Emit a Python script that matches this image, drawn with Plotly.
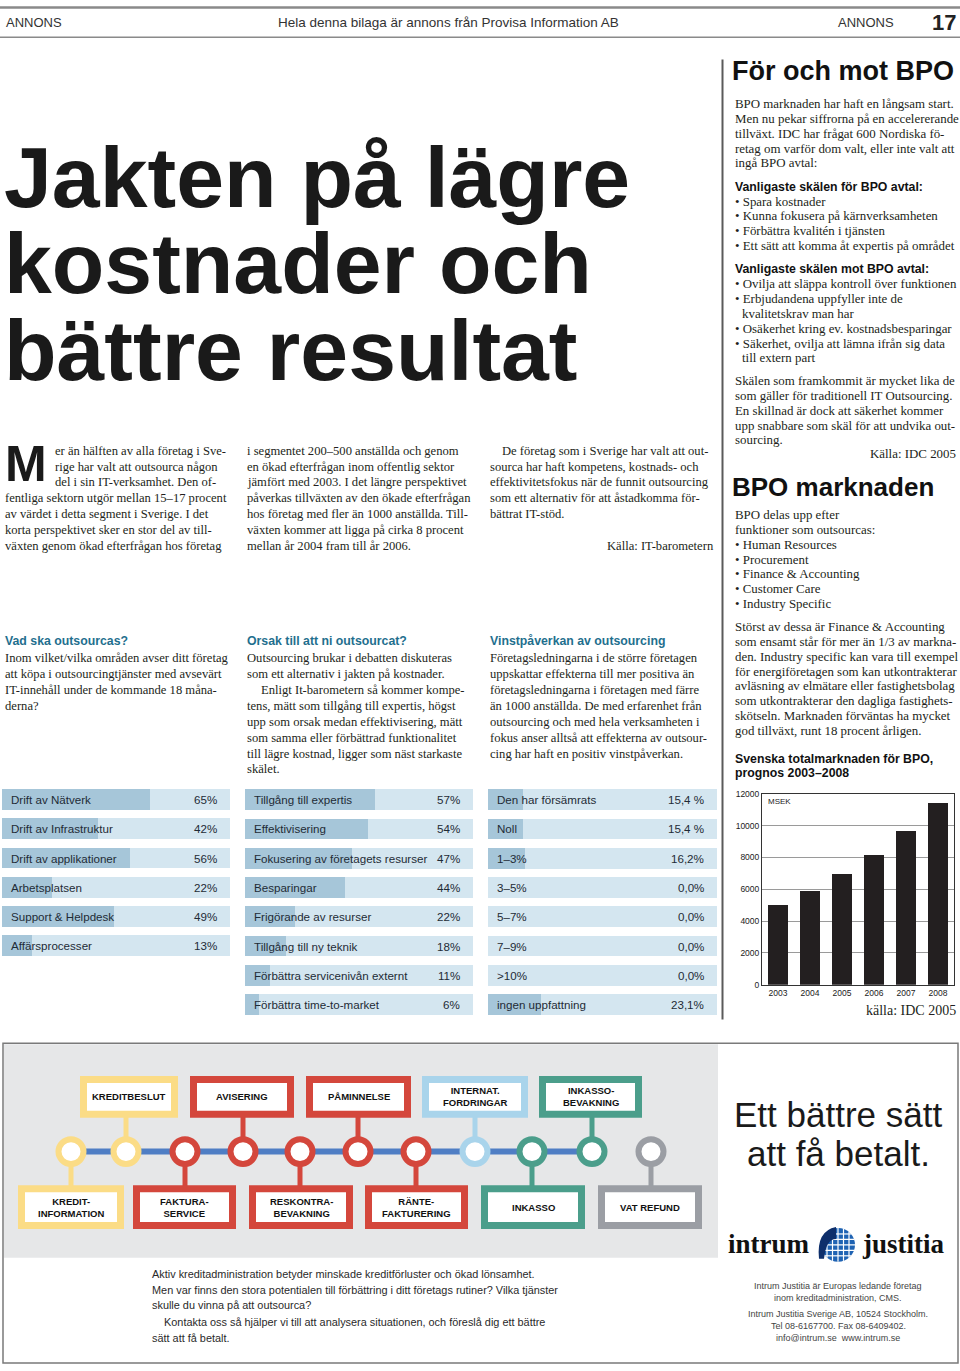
import math
import plotly.graph_objects as go

W, H = 960, 1371

# ---------------- data ----------------
outsource_cats = ["Drift av Nätverk", "Drift av Infrastruktur", "Drift av applikationer",
                  "Arbetsplatsen", "Support & Helpdesk", "Affärsprocesser"]
outsource_pct = [65, 42, 56, 22, 49, 13]
outsource_labels = ["65%", "42%", "56%", "22%", "49%", "13%"]

reason_cats = ["Tillgång till expertis", "Effektivisering", "Fokusering av företagets resurser",
               "Besparingar", "Frigörande av resurser", "Tillgång till ny teknik",
               "Förbättra servicenivån externt", "Förbättra time-to-market"]
reason_pct = [57, 54, 47, 44, 22, 18, 11, 6]
reason_labels = ["57%", "54%", "47%", "44%", "22%", "18%", "11%", "6%"]

profit_cats = ["Den har försämrats", "Noll", "1–3%", "3–5%", "5–7%", "7–9%", ">10%",
               "ingen uppfattning"]
profit_pct = [15.4, 15.4, 16.2, 0.0, 0.0, 0.0, 0.0, 23.1]
profit_labels = ["15,4 %", "15,4 %", "16,2%", "0,0%", "0,0%", "0,0%", "0,0%", "23,1%"]

bpo_years = ["2003", "2004", "2005", "2006", "2007", "2008"]
bpo_msek = [5000, 5900, 6950, 8150, 9700, 11450]
bpo_ticks = [0, 2000, 4000, 6000, 8000, 10000, 12000]

ad_top_labels = ["KREDITBESLUT", "AVISERING", "PÅMINNELSE", "INTERNAT.<br>FORDRINGAR",
                 "INKASSO-<br>BEVAKNING"]
ad_bottom_labels = ["KREDIT-<br>INFORMATION", "FAKTURA-<br>SERVICE", "RESKONTRA-<br>BEVAKNING",
                    "RÄNTE-<br>FAKTURERING", "INKASSO", "VAT REFUND"]

# ---------------- styles ----------------
SERIF = "Liberation Serif, DejaVu Serif, serif"
SANS = "Liberation Sans, Arial, Helvetica, sans-serif"
INK = "#231f20"
TEAL_HEAD = "#1f6f8e"
LIGHT = "#d4e6f0"
DARK = "#a6c6d9"

YEL, RED, LBL, TEA, GRY = "#fbdc86", "#d4473c", "#a9d4eb", "#4b9e8b", "#9b9ea4"
LINE_BLUE = "#4f7ec4"

fig = go.Figure()
ann = []
shapes = []
layout_axes = {}


def X(x):
    return x / W


def Y(y):
    return 1 - y / H


def T(x, y, text, size, family=SERIF, color=INK, anchor="left", weight="normal"):
    ann.append(dict(x=X(x), y=Y(y), xref="paper", yref="paper", text=text, showarrow=False,
                    xanchor=anchor, yanchor="middle",
                    font=dict(family=family, size=size, color=color, weight=weight)))


def hline(x0, x1, y, color, width):
    shapes.append(dict(type="line", xref="paper", yref="paper", x0=X(x0), x1=X(x1),
                       y0=Y(y), y1=Y(y), line=dict(color=color, width=width)))


def vline(x, y0, y1, color, width):
    shapes.append(dict(type="line", xref="paper", yref="paper", x0=X(x), x1=X(x),
                       y0=Y(y0), y1=Y(y1), line=dict(color=color, width=width)))


def rect(x0, y0, x1, y1, fill, line_color=None, lw=0):
    shapes.append(dict(type="rect", xref="paper", yref="paper", x0=X(x0), x1=X(x1),
                       y0=Y(y1), y1=Y(y0), fillcolor=fill,
                       line=dict(color=line_color or fill, width=lw)))


def circle(cx, cy, r, fill, line_color, lw):
    shapes.append(dict(type="circle", xref="paper", yref="paper", x0=X(cx - r), x1=X(cx + r),
                       y0=Y(cy + r), y1=Y(cy - r), fillcolor=fill,
                       line=dict(color=line_color, width=lw)))


# ---------------- header ----------------
hline(0, 960, 2.5, "#8a8a8a", 2.5)
hline(0, 960, 32.5, "#8a8a8a", 1.5)
T(4, 18, "ANNONS", 13, SANS, "#333")
T(448, 18, "Hela denna bilaga är annons från Provisa Information AB", 13.5, SANS, "#333", "center")
T(896, 18, "ANNONS", 13, SANS, "#333", "right")
T(958, 18, "17", 22, SANS, "#222", "right", "bold")

# ---------------- title ----------------
for yy, line in zip([173, 260, 348], ["Jakten på lägre", "kostnader och", "bättre resultat"]):
    T(2, yy, line, 86, SANS, "#1a1a1a", "left", "bold")

# ---------------- body columns ----------------
T(3, 462, "M", 50, SANS, "#1a1a1a", "left", "bold")
col1 = [(53, "er än hälften av alla företag i Sve-"),
        (53, "rige har valt att outsourca någon"),
        (53, "del i sin IT-verksamhet. Den of-"),
        (3, "fentliga sektorn utgör mellan 15–17 procent"),
        (3, "av värdet i detta segment i Sverige. I det"),
        (3, "korta perspektivet sker en stor del av till-"),
        (3, "växten genom ökad efterfrågan hos företag")]
for i, (xx, line) in enumerate(col1):
    T(xx, 449 + 16 * i, line, 12.6)

col2 = ["i segmentet 200–500 anställda och genom",
        "en ökad efterfrågan inom offentlig sektor",
        "jämfört med 2003. I det längre perspektivet",
        "påverkas tillväxten av den ökade efterfrågan",
        "hos företag med fler än 1000 anställda. Till-",
        "växten kommer att ligga på cirka 8 procent",
        "mellan år 2004 fram till år 2006."]
for i, line in enumerate(col2):
    T(245, 449 + 16 * i, line, 12.6)

col3 = [(500, "De företag som i Sverige har valt att out-"),
        (488, "sourca har haft kompetens, kostnads- och"),
        (488, "effektivitetsfokus när de funnit outsourcing"),
        (488, "som ett alternativ för att åstadkomma för-"),
        (488, "bättrat IT-stöd.")]
for i, (xx, line) in enumerate(col3):
    T(xx, 449 + 16 * i, line, 12.6)
T(716, 545, "Källa: IT-barometern", 12.6, SERIF, INK, "right")

# section intros
T(3, 641, "Vad ska outsourcas?", 12.3, SANS, TEAL_HEAD, "left", "bold")
for i, line in enumerate(["Inom vilket/vilka områden avser ditt företag",
                          "att köpa i outsourcingtjänster med avsevärt",
                          "IT-innehåll under de kommande 18 måna-",
                          "derna?"]):
    T(3, 658 + 16 * i, line, 12.6)

T(245, 641, "Orsak till att ni outsourcat?", 12.3, SANS, TEAL_HEAD, "left", "bold")
for i, (xx, line) in enumerate([(245, "Outsourcing brukar i debatten diskuteras"),
                                (245, "som ett alternativ i jakten på kostnader."),
                                (259, "Enligt It-barometern så kommer kompe-"),
                                (245, "tens, mätt som tillgång till expertis, högst"),
                                (245, "upp som orsak medan effektivisering, mätt"),
                                (245, "som samma eller förbättrad funktionalitet"),
                                (245, "till lägre kostnad, ligger som näst starkaste"),
                                (245, "skälet.")]):
    T(xx, 658 + 16 * i, line, 12.6)

T(488, 641, "Vinstpåverkan av outsourcing", 12.3, SANS, TEAL_HEAD, "left", "bold")
for i, line in enumerate(["Företagsledningarna i de större företagen",
                          "uppskattar effekterna till mer positiva än",
                          "företagsledningarna i företagen med färre",
                          "än 1000 anställda. De med erfarenhet från",
                          "outsourcing och med hela verksamheten i",
                          "fokus anser alltså att effekterna av outsour-",
                          "cing har haft en positiv vinstpåverkan."]):
    T(488, 658 + 16 * i, line, 12.6)

# column rule
vline(722.5, 55, 1022, "#5a5a5a", 2)

# ---------------- right column ----------------
T(730, 66, "För och mot BPO", 27, SANS, "#111", "left", "bold")
right_lines = [
    (100, 733, "BPO marknaden har haft en långsam start.", "n"),
    (115, 733, "Men nu pekar siffrorna på en accelererande", "n"),
    (130, 733, "tillväxt. IDC har frågat 600 Nordiska fö-", "n"),
    (145, 733, "retag om varför dom valt, eller inte valt att", "n"),
    (159, 733, "ingå BPO avtal:", "n"),
    (183, 733, "Vanligaste skälen för BPO avtal:", "h"),
    (198, 733, "• Spara kostnader", "n"),
    (213, 733, "• Kunna fokusera på kärnverksamheten", "n"),
    (228, 733, "• Förbättra kvalitén i tjänsten", "n"),
    (243, 733, "• Ett sätt att komma åt expertis på området", "n"),
    (266, 733, "Vanligaste skälen mot BPO avtal:", "h"),
    (281, 733, "• Ovilja att släppa kontroll över funktionen", "n"),
    (296, 733, "• Erbjudandena uppfyller inte de", "n"),
    (311, 740, "kvalitetskrav man har", "n"),
    (326, 733, "• Osäkerhet kring ev. kostnadsbesparingar", "n"),
    (341, 733, "• Säkerhet, ovilja att lämna ifrån sig data", "n"),
    (356, 740, "till extern part", "n"),
    (379, 733, "Skälen som framkommit är mycket lika de", "n"),
    (394, 733, "som gäller för traditionell IT Outsourcing.", "n"),
    (409, 733, "En skillnad är dock att säkerhet kommer", "n"),
    (424, 733, "upp snabbare som skäl för att undvika out-", "n"),
    (438, 733, "sourcing.", "n"),
    (514, 733, "BPO delas upp efter", "n"),
    (529, 733, "funktioner som outsourcas:", "n"),
    (544, 733, "• Human Resources", "n"),
    (559, 733, "• Procurement", "n"),
    (573, 733, "• Finance & Accounting", "n"),
    (588, 733, "• Customer Care", "n"),
    (603, 733, "• Industry Specific", "n"),
    (627, 733, "Störst av dessa är Finance & Accounting", "n"),
    (642, 733, "som ensamt står för mer än 1/3 av markna-", "n"),
    (657, 733, "den. Industry specific kan vara till exempel", "n"),
    (672, 733, "för energiföretagen som kan utkontrakterar", "n"),
    (686, 733, "avläsning av elmätare eller fastighetsbolag", "n"),
    (701, 733, "som utkontrakterar den dagliga fastighets-", "n"),
    (716, 733, "skötseln. Marknaden förväntas ha mycket", "n"),
    (731, 733, "god tillväxt, runt 18 procent årligen.", "n"),
    (760, 733, "Svenska totalmarknaden för BPO,", "h"),
    (774, 733, "prognos 2003–2008", "h"),
]
for yy, xx, line, kind in right_lines:
    if kind == "h":
        T(xx, yy, line, 12.3, SANS, "#111", "left", "bold")
    else:
        T(xx, yy, line, 12.9)
T(958, 452, "Källa: IDC 2005", 12.9, SERIF, INK, "right")
T(730, 486, "BPO marknaden", 26, SANS, "#111", "left", "bold")
T(958, 1013, "källa: IDC 2005", 14, SERIF, INK, "right")


# ---------------- horizontal bar tables ----------------
def table(k, cats, vals, labels, x0, x1, ytop, pitch):
    n = len(cats)
    ybot = ytop + n * pitch
    layout_axes[f"xaxis{k}"] = dict(domain=[X(x0), X(x1)], range=[0, 100], visible=False,
                                    anchor=f"y{k}", fixedrange=True)
    layout_axes[f"yaxis{k}"] = dict(domain=[Y(ybot), Y(ytop)], range=[n - 0.5, -0.5],
                                    visible=False, anchor=f"x{k}", fixedrange=True)
    idx = list(range(n))
    fig.add_trace(go.Bar(x=[100] * n, y=idx, orientation="h", width=0.71,
                         marker=dict(color=LIGHT, line_width=0), xaxis=f"x{k}", yaxis=f"y{k}",
                         hoverinfo="skip"))
    fig.add_trace(go.Bar(x=vals, y=idx, orientation="h", width=0.71,
                         marker=dict(color=DARK, line_width=0), xaxis=f"x{k}", yaxis=f"y{k}",
                         customdata=labels, hovertemplate="%{customdata}<extra></extra>"))
    for i, (c, lab) in enumerate(zip(cats, labels)):
        ann.append(dict(x=0, y=i, xref=f"x{k}", yref=f"y{k}", text=c, showarrow=False,
                        xanchor="left", yanchor="middle", xshift=7,
                        font=dict(family=SANS, size=11.6, color="#1e2b36")))
        ann.append(dict(x=100, y=i, xref=f"x{k}", yref=f"y{k}", text=lab, showarrow=False,
                        xanchor="right", yanchor="middle", xshift=-11,
                        font=dict(family=SANS, size=11.6, color="#1e2b36")))


table(2, outsource_cats, outsource_pct, outsource_labels, 2, 230, 785.75, 29.45)
table(3, reason_cats, reason_pct, reason_labels, 245, 473, 785.75, 29.5)
table(4, profit_cats, profit_pct, profit_labels, 488, 717, 785.75, 29.5)

# ---------------- BPO market chart ----------------
fig.add_trace(go.Bar(x=bpo_years, y=bpo_msek, width=0.62, marker=dict(color=INK, line_width=0),
                     xaxis="x", yaxis="y", hovertemplate="%{x}: %{y} MSEK<extra></extra>"))
layout_axes["xaxis"] = dict(domain=[X(762), X(954)], type="category", showgrid=False,
                            showline=True, mirror=True, linecolor="#333", linewidth=1,
                            tickfont=dict(family=SANS, size=8.5, color="#222"), ticks="",
                            anchor="y", fixedrange=True)
layout_axes["yaxis"] = dict(domain=[Y(987), Y(794.5)], range=[0, 12000], tickvals=bpo_ticks,
                            tickformat="d", showgrid=True, gridcolor="#9a9a9a", gridwidth=1,
                            showline=True, mirror=True, linecolor="#333", linewidth=1,
                            zeroline=False, ticks="",
                            tickfont=dict(family=SANS, size=8.5, color="#222"),
                            anchor="x", fixedrange=True)
ann.append(dict(x=0.02, y=11500, xref="x domain", yref="y", text="MSEK", showarrow=False,
                xanchor="left", yanchor="middle",
                font=dict(family=SANS, size=8, color="#222")))

# ---------------- advertisement ----------------
rect(3, 1046, 958, 1368, "white", "#7a7a7a", 1.5)
rect(4, 1047, 718, 1262, "#e6e7e8")

circle_x = [71, 126, 185, 243, 300, 358, 416, 475, 532, 592, 651]
circle_col = [YEL, YEL, RED, RED, RED, RED, RED, LBL, TEA, TEA, GRY]
top_x = [(80, 178), (190, 294), (306, 411), (422, 528), (539, 642)]
top_col = [YEL, RED, RED, LBL, TEA]
bot_x = [(18, 124), (133, 236), (249, 353), (365, 468), (481, 585), (598, 702)]
bot_col = [YEL, RED, RED, RED, TEA, GRY]
CY = 1155
TOP_Y = (1079, 1121)
BOT_Y = (1189, 1233)

hline(71, 592, CY, LINE_BLUE, 6)
for i, (cx, col) in enumerate(zip(circle_x, circle_col)):
    if i % 2 == 0:
        vline(cx, CY, BOT_Y[0] + 2, col, 5)
    else:
        vline(cx, CY, TOP_Y[1] - 2, col, 5)
for cx, col in zip(circle_x, circle_col):
    circle(cx, CY, 12.5, "white", col, 6)

BW = 7
for (x0, x1), col, lab in zip(top_x, top_col, ad_top_labels):
    rect(x0 + BW / 2, TOP_Y[0] + BW / 2, x1 - BW / 2, TOP_Y[1] - BW / 2, "white", col, BW)
    ann.append(dict(x=X((x0 + x1) / 2), y=Y(sum(TOP_Y) / 2), xref="paper", yref="paper",
                    text=lab, showarrow=False, xanchor="center", yanchor="middle",
                    font=dict(family=SANS, size=9.5, color="#111", weight="bold")))
for (x0, x1), col, lab in zip(bot_x, bot_col, ad_bottom_labels):
    rect(x0 + BW / 2, BOT_Y[0] + BW / 2, x1 - BW / 2, BOT_Y[1] - BW / 2, "white", col, BW)
    ann.append(dict(x=X((x0 + x1) / 2), y=Y(sum(BOT_Y) / 2), xref="paper", yref="paper",
                    text=lab, showarrow=False, xanchor="center", yanchor="middle",
                    font=dict(family=SANS, size=9.5, color="#111", weight="bold")))

ad_text = [(150, 1278, "Aktiv kreditadministration betyder minskade kreditförluster och ökad lönsamhet."),
           (150, 1294, "Men var finns den stora potentialen till förbättring i ditt företags rutiner? Vilka tjänster"),
           (150, 1310, "skulle du vinna på att outsourca?"),
           (162, 1327, "Kontakta oss så hjälper vi till att analysera situationen, och föreslå dig ett bättre"),
           (150, 1343, "sätt att få betalt.")]
for xx, yy, line in ad_text:
    T(xx, yy, line, 10.9, SANS, "#2a2a2a")

T(838, 1118, "Ett bättre sätt", 35, SANS, "#1a1a1a", "center")
T(838, 1157, "att få betalt.", 35, SANS, "#1a1a1a", "center")

# logo
T(812, 1248, "intrum", 27, SERIF, "#111", "right", "bold")
T(860, 1248, "justitia", 27, SERIF, "#111", "left", "bold")
gx, gy, gr = 838, 1249, 17
circle(gx, gy, gr, "#1f63b3", "#1f63b3", 0)
for d in (-11, -5.5, 0, 5.5, 11):
    half = math.sqrt(gr * gr - d * d)
    hline(gx - half, gx + half, gy + d, "white", 1.2)
    vline(gx + d, gy - half, gy + half, "white", 1.2)
shapes.append(dict(type="path", xref="paper", yref="paper",
                   path=(f"M {X(gx - 19)} {Y(gy + 14)} Q {X(gx - 22)} {Y(gy - 14)} {X(gx - 2)} {Y(gy - 18)} "
                         f"L {X(gx - 2)} {Y(gy - 6)} Q {X(gx - 12)} {Y(gy - 6)} {X(gx - 14)} {Y(gy + 14)} Z"),
                   fillcolor="#0e2f6b", line=dict(width=0)))

for yy, line in [(1290, "Intrum Justitia är Europas ledande företag"),
                 (1302, "inom kreditadministration, CMS."),
                 (1319, "Intrum Justitia Sverige AB, 10524 Stockholm."),
                 (1331, "Tel 08-6167700. Fax 08-6409402."),
                 (1343, "info@intrum.se  www.intrum.se")]:
    T(838, yy, line, 9, SANS, "#444", "center")

fig.update_layout(width=W, height=H, margin=dict(l=0, r=0, t=0, b=0), autosize=False,
                  paper_bgcolor="white", plot_bgcolor="white", showlegend=False,
                  barmode="overlay", bargap=0, annotations=ann, shapes=shapes, **layout_axes)

fig.write_html("out.html", config={"displayModeBar": False},
               post_script="document.body.style.margin='0px';document.body.style.overflow='hidden';")
